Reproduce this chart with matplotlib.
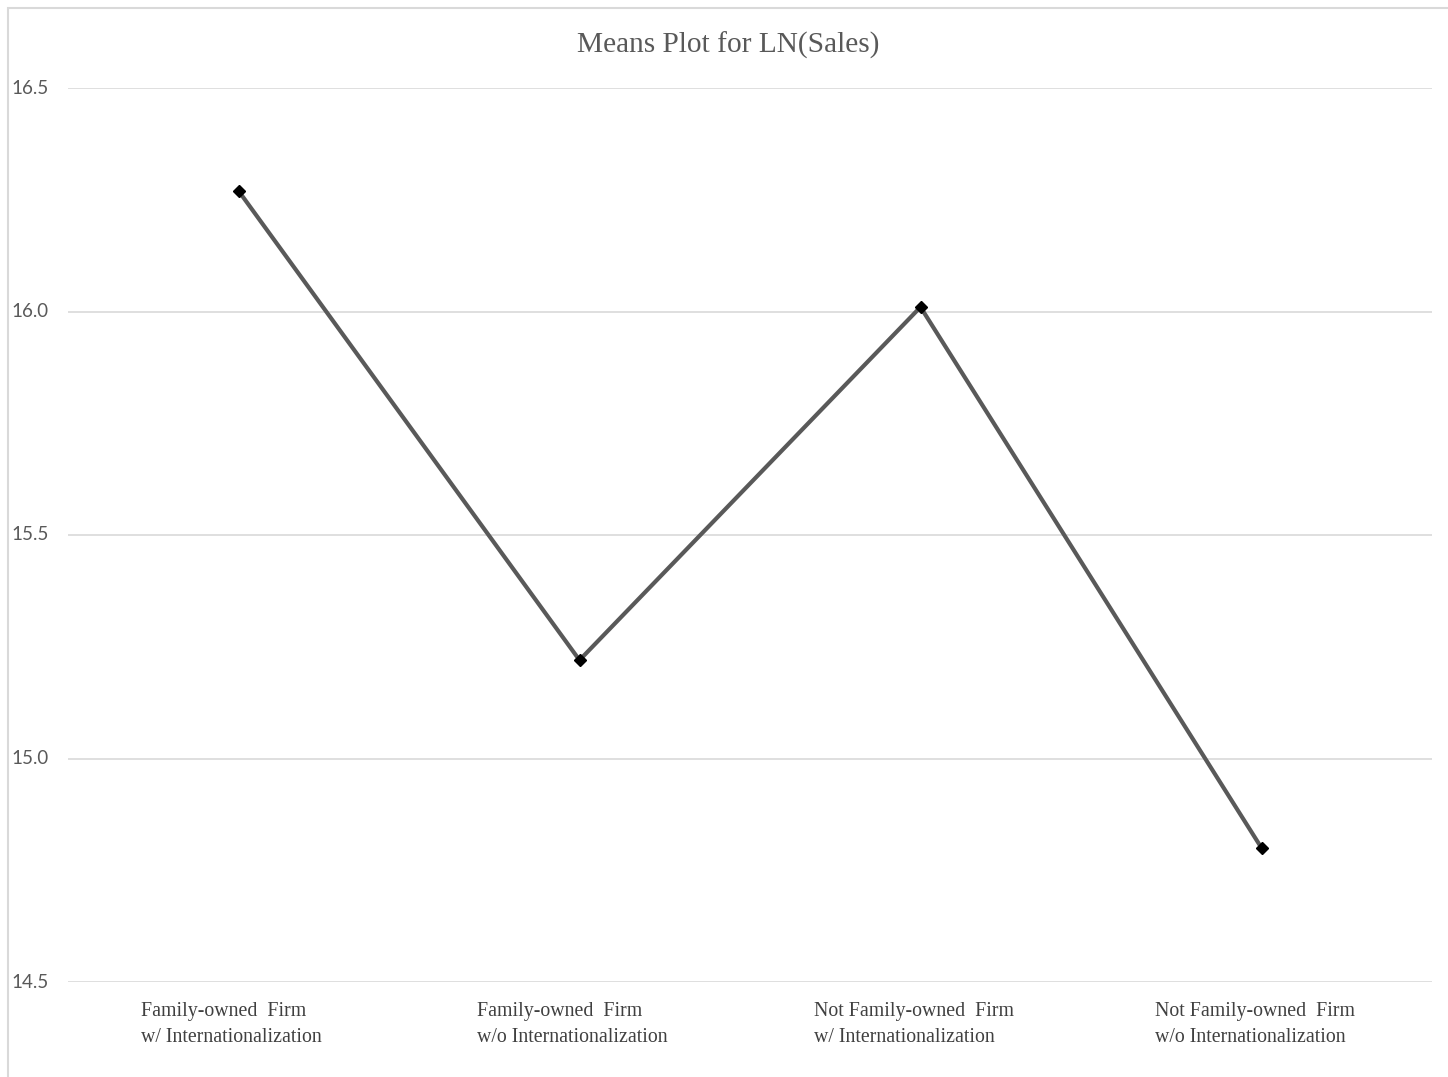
import matplotlib.pyplot as plt
from matplotlib.patches import Rectangle
from matplotlib.transforms import blended_transform_factory

groups = [
    "Family-owned  Firm\nw/ Internationalization",
    "Family-owned  Firm\nw/o Internationalization",
    "Not Family-owned  Firm\nw/ Internationalization",
    "Not Family-owned  Firm\nw/o Internationalization",
]
means = [16.27, 15.22, 16.01, 14.80]
yticks = [14.5, 15.0, 15.5, 16.0, 16.5]

fig = plt.figure(figsize=(14.48, 10.77), dpi=100)
ax = fig.add_axes([68 / 1448, 1 - 982 / 1077, (1432 - 68) / 1448, (982 - 88) / 1077])

# outer chart border (light gray, cut off at right/bottom)
fig.patches.append(Rectangle((8 / 1448, -0.1), 1.2, 1 - 8 / 1077 + 0.1,
                             transform=fig.transFigure, fill=False,
                             edgecolor="#d9d9d9", linewidth=1.5))

x = list(range(len(means)))
ax.plot(x, means, color="#595959", linewidth=3, zorder=3)
ax.plot(x, means, linestyle="none", marker="D", markersize=6,
        color="black", zorder=4)

ax.set_xlim(-0.5, len(means) - 0.5)
ax.set_ylim(14.5, 16.5)
ax.set_yticks(yticks)
ax.grid(axis="y", color="#d9d9d9", linewidth=1.2)
ax.set_axisbelow(True)
for s in ax.spines.values():
    s.set_visible(False)
ax.tick_params(axis="both", length=0)
ax.set_xticks([])
ax.set_yticklabels([])

# y tick labels flush against the left border
for v in yticks:
    fig.text(11 / 1448, ax.transData.transform((0, v))[1] / fig.bbox.height,
             f"{v:.1f}", ha="left", va="center", fontsize=13.5,
             family="Lato", color="#595959")

# category labels below the axis
trans = blended_transform_factory(ax.transData, ax.transAxes)
for i, lab in enumerate(groups):
    ax.text(i - 0.02, -0.022, lab, transform=trans, ha="center", va="top",
            multialignment="left", fontsize=14.3, family="Liberation Serif",
            color="#404040", linespacing=1.55)

fig.text(0.503, 1 - 45 / 1077, "Means Plot for LN(Sales)", ha="center",
         va="center", fontsize=21.2, family="Liberation Serif", color="#595959")

fig.savefig("out.png", dpi=100)
